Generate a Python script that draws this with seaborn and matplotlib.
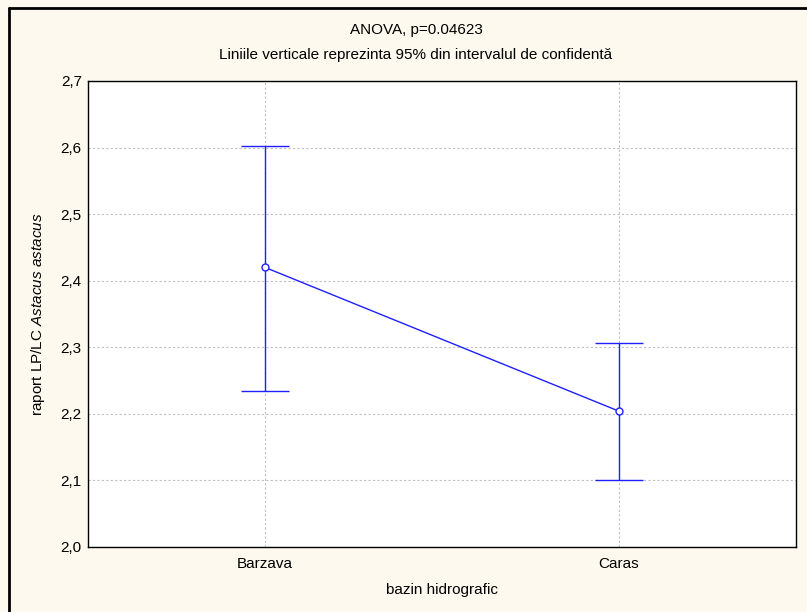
"""
ANOVA mean plot: raport LP/LC Astacus astacus by bazin hidrografic
"""

import matplotlib
matplotlib.use("Agg")
import matplotlib.pyplot as plt
import matplotlib.ticker as mticker
from matplotlib.lines import Line2D
import seaborn as sns
import pandas as pd

# data
basins = ["Barzava", "Caras"]
means = [2.420, 2.204]
ci_low = [2.235, 2.101]
ci_high = [2.603, 2.307]
y_ticks = [2.0, 2.1, 2.2, 2.3, 2.4, 2.5, 2.6, 2.7]

sns.set_theme(style="white")
plt.rcParams["font.family"] = ["Liberation Sans", "DejaVu Sans"]
plt.rcParams["text.color"] = "black"
plt.rcParams["mathtext.fontset"] = "custom"
plt.rcParams["mathtext.rm"] = "Liberation Sans"
plt.rcParams["mathtext.it"] = "Liberation Sans:italic"

BLUE = "#1f1fff"
BG = "#fdf9ee"
FS = 11

df = pd.DataFrame({"bazin": basins, "raport": means})

fig = plt.figure(figsize=(8.07, 6.12), dpi=100, facecolor=BG)
ax = fig.add_axes([88 / 807, 1 - 547 / 612, (796 - 88) / 807, (547 - 81) / 612])
ax.set_facecolor("white")

sns.pointplot(
    data=df,
    x="bazin",
    y="raport",
    color=BLUE,
    errorbar=None,
    markers="o",
    linewidth=1,
    markersize=5,
    ax=ax,
)
# open circle markers
for line in ax.lines:
    line.set_markerfacecolor("white")
    line.set_markeredgecolor(BLUE)
    line.set_markeredgewidth(1)
    line.set_zorder(4)

# 95% confidence intervals
yerr = [[m - lo for m, lo in zip(means, ci_low)],
        [hi - m for m, hi in zip(means, ci_high)]]
ax.errorbar(range(len(basins)), means, yerr=yerr, fmt="none",
            ecolor=BLUE, elinewidth=1, capsize=17, capthick=1, zorder=3)

ax.set_xlim(-0.5, len(basins) - 0.5)
ax.set_ylim(2.0, 2.7)
ax.set_yticks(y_ticks)
ax.yaxis.set_major_formatter(
    mticker.FuncFormatter(lambda v, _: f"{v:.1f}".replace(".", ","))
)
ax.grid(True, color="#c0c0c0", linestyle=(0, (2, 2)), linewidth=0.8)
ax.set_axisbelow(True)
ax.tick_params(axis="both", length=0, labelsize=FS, colors="black")
ax.tick_params(axis="y", pad=4.5)
ax.tick_params(axis="x", pad=7)

for spine in ax.spines.values():
    spine.set_visible(True)
    spine.set_color("black")
    spine.set_linewidth(1)

ax.set_xlabel("bazin hidrografic", fontsize=FS, color="black", va="center")
ax.xaxis.set_label_coords(0.5, -(590 - 547) / 466)
ax.set_ylabel(r"raport LP/LC $Astacus\ astacus$", fontsize=FS,
              color="black", va="center")
ax.yaxis.set_label_coords(-(88 - 38) / 708, 0.5)

fig.text(416 / 807, 1 - 30 / 612, "ANOVA, p=0.04623", ha="center",
         va="center", fontsize=FS, color="black")
fig.text(416 / 807, 1 - 55 / 612,
         "Liniile verticale reprezinta 95% din intervalul de confidentă",
         ha="center", va="center", fontsize=FS, color="black")

# outer frame (top and left edges visible in the reference)
x0, y0 = 8.5 / 807, 1 - 7.5 / 612
fig.add_artist(Line2D([x0, 1.0], [y0, y0], transform=fig.transFigure,
                      color="black", linewidth=2))
fig.add_artist(Line2D([x0, x0], [0.0, y0], transform=fig.transFigure,
                      color="black", linewidth=2))

fig.savefig("out.png", dpi=100, facecolor=BG)
plt.close(fig)
